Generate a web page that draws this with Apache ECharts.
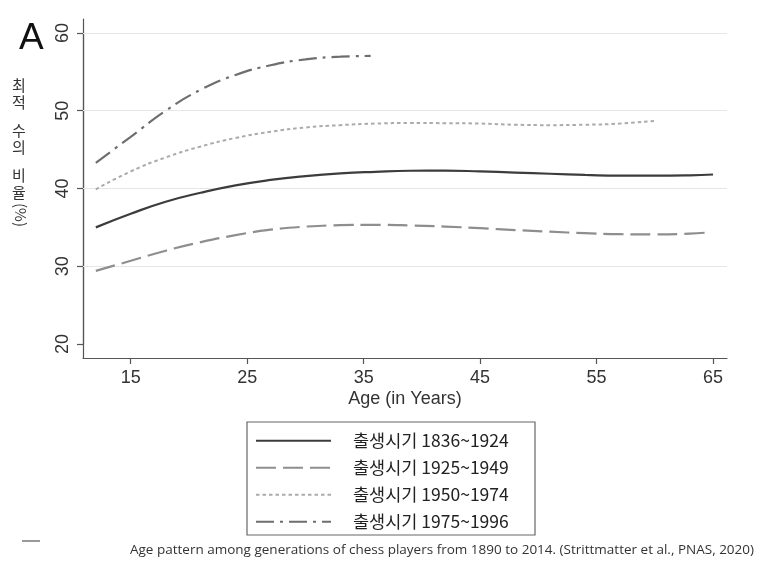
<!DOCTYPE html>
<html>
<head>
<meta charset="utf-8">
<script src="https://cdn.jsdelivr.net/npm/echarts@6/dist/echarts.min.js"></script>
<style>html,body{margin:0;padding:0;background:#fff;}#c{width:780px;height:565px;}</style>
</head>
<body>
<div id="c"></div>
<script>
const seriesNames = ['출생시기 1836~1924', '출생시기 1925~1949', '출생시기 1950~1974', '출생시기 1975~1996'];
const xTicks = [15, 25, 35, 45, 55, 65];
const yTicks = [20, 30, 40, 50, 60];
const yGrid = [30, 40, 50, 60];

const ages1 = [12, 15, 18, 21, 24, 27, 30, 33, 36, 39, 42, 45, 48, 51, 54, 57, 60, 63, 65];
const vals1 = [35.0, 36.75, 38.3, 39.45, 40.4, 41.1, 41.6, 41.95, 42.15, 42.28, 42.3, 42.2, 42.05, 41.9, 41.75, 41.65, 41.65, 41.7, 41.8];

const ages2 = [12, 15, 18, 21, 24, 27, 30, 33, 36, 39, 42, 45, 48, 51, 54, 57, 60, 63, 64.6];
const vals2 = [29.4, 30.7, 32.0, 33.1, 34.0, 34.7, 35.1, 35.28, 35.32, 35.25, 35.1, 34.9, 34.65, 34.45, 34.25, 34.12, 34.1, 34.2, 34.35];

const ages3 = [12, 15, 18, 21, 24, 27, 30, 33, 36, 39, 42, 45, 48, 51, 54, 57, 60];
const vals3 = [39.9, 42.2, 44.0, 45.4, 46.5, 47.3, 47.85, 48.15, 48.35, 48.42, 48.4, 48.35, 48.2, 48.15, 48.2, 48.35, 48.7];

const ages4 = [12, 15, 18, 21, 24, 27, 30, 33, 35.6];
const vals4 = [43.3, 46.65, 50.0, 52.7, 54.6, 55.85, 56.6, 56.95, 57.05];

const X_MIN = 10.9, X_MAX = 66.2, Y_MIN = 18.2, Y_MAX = 61.8;
const X_STEP = 10, Y_STEP = 10;

const zip = (a, b) => a.map((x, i) => [x, b[i]]);

const chart = echarts.init(document.getElementById('c'));
const styles = [
  {color: '#3c3c3c', width: 2.2, type: 'solid'},
  {color: '#8e8e8e', width: 2.2, type: [20, 7]},
  {color: '#ababab', width: 2, type: [3.5, 3]},
  {color: '#6e6e6e', width: 2.2, type: [18, 6, 3, 6]}
];
const datas = [zip(ages1, vals1), zip(ages2, vals2), zip(ages3, vals3), zip(ages4, vals4)];

const series = datas.map((d, i) => ({
  name: seriesNames[i],
  type: 'line',
  data: d,
  smooth: 0.5,
  symbol: 'none',
  lineStyle: {color: styles[i].color, width: styles[i].width, type: styles[i].type},
  itemStyle: {color: styles[i].color},
  xAxisIndex: 0, yAxisIndex: 0,
  z: 10 - i
}));

series.push({
  type: 'line',
  data: [],
  silent: true,
  xAxisIndex: 0, yAxisIndex: 0,
  markLine: {
    silent: true,
    symbol: 'none',
    label: {show: false},
    lineStyle: {color: '#e6e6e6', width: 1, type: 'solid'},
    data: yGrid.map(v => ({yAxis: v}))
  },
  z: 1
});

const labelFont = {fontFamily: 'Liberation Sans', fontSize: 18, color: '#333'};
const axisLineStyle = {color: '#555', width: 1.2};

chart.setOption({
  animation: false,
  grid: [{left: 83, right: 53, top: 19, bottom: 207, containLabel: false}],
  xAxis: [{
    type: 'value', gridIndex: 0,
    min: X_MIN, max: X_MAX,
    name: 'Age (in Years)',
    nameLocation: 'middle',
    nameGap: 32,
    nameTextStyle: labelFont,
    axisLine: {show: true, lineStyle: axisLineStyle},
    axisTick: {show: false},
    axisLabel: {show: false},
    splitLine: {show: false}
  }],
  yAxis: [{
    type: 'value', gridIndex: 0,
    min: Y_MIN, max: Y_MAX,
    axisLine: {show: true, lineStyle: axisLineStyle},
    axisTick: {show: false},
    axisLabel: {show: false},
    splitLine: {show: false}
  }],
  legend: {
    orient: 'vertical',
    left: 247, top: 422,
    padding: [10, 10, 6, 8],
    itemWidth: 75, itemHeight: 16, itemGap: 9.5,
    data: seriesNames,
    itemStyle: {opacity: 0},
    textStyle: {fontFamily: 'Noto Sans CJK KR', fontSize: 17.5, color: '#222', padding: [0, 0, 0, 17], lineHeight: 16}
  },
  series: series
});

// Tick/label axes: a second grid whose edges are found through the main grid's own scales,
// so that its interval ticks (starting at the first tick value) fall on the main axes.
const W = chart.getWidth(), H = chart.getHeight();
const pXfirst = chart.convertToPixel({gridIndex: 0}, [xTicks[0], Y_MIN]);
const pXlast = chart.convertToPixel({gridIndex: 0}, [xTicks[xTicks.length - 1], Y_MIN]);
const pYfirst = chart.convertToPixel({gridIndex: 0}, [X_MIN, yTicks[0]]);
const pYlast = chart.convertToPixel({gridIndex: 0}, [X_MIN, yTicks[yTicks.length - 1]]);

const graphics = [];
const ylabelChars = ['최', '적', '수', '의', '비', '율'];
const ylabelY = [87, 104, 132, 149, 177, 194];
ylabelChars.forEach((ch, i) => graphics.push({
  type: 'text', left: 12, top: ylabelY[i] - 9,
  style: {text: ch, font: '15px "Noto Sans CJK KR"', fill: '#333'}
}));
graphics.push({
  type: 'text', x: 28, y: 203, rotation: -Math.PI / 2,
  style: {text: '(%)', font: '15px "Noto Sans CJK KR"', fill: '#333'}
});
graphics.push({
  type: 'text', left: 19, top: 20,
  style: {text: 'A', font: '37px "Liberation Sans"', fill: '#111'}
});
graphics.push({
  type: 'rect', shape: {x: 247, y: 422, width: 288, height: 113},
  style: {fill: 'none', stroke: '#666', lineWidth: 1.2}
});
graphics.push({
  type: 'line', shape: {x1: 22, y1: 541, x2: 40, y2: 541},
  style: {stroke: '#999', lineWidth: 2}
});
graphics.push({
  type: 'text', left: 130, top: 543,
  style: {text: 'Age pattern among generations of chess players from 1890 to 2014. (Strittmatter et al., PNAS, 2020)', font: '13.5px "Open Sans"', fill: '#333'}
});

chart.setOption({
  grid: [
    {left: 83, right: 53, top: 19, bottom: 207, containLabel: false},
    {left: pXfirst[0], right: W - pXlast[0], top: pYlast[1], bottom: H - pYfirst[1], containLabel: false}
  ],
  xAxis: [
    {},
    {
      type: 'value', gridIndex: 1,
      min: xTicks[0], max: xTicks[xTicks.length - 1], interval: X_STEP,
      offset: pXfirst[1] - pYfirst[1],
      axisLine: {show: true, lineStyle: axisLineStyle},
      axisTick: {show: true, length: 6, lineStyle: {color: '#555', width: 1.2}},
      axisLabel: Object.assign({show: true, margin: 11}, labelFont),
      splitLine: {show: false}
    }
  ],
  yAxis: [
    {},
    {
      type: 'value', gridIndex: 1,
      min: yTicks[0], max: yTicks[yTicks.length - 1], interval: Y_STEP,
      offset: pXfirst[0] - pYfirst[0],
      axisLine: {show: true, lineStyle: axisLineStyle},
      axisTick: {show: true, length: 6, lineStyle: {color: '#555', width: 1.2}},
      axisLabel: Object.assign({show: true, margin: 11, rotate: 90}, labelFont),
      splitLine: {show: false}
    }
  ],
  graphic: graphics
});
</script>
</body>
</html>
